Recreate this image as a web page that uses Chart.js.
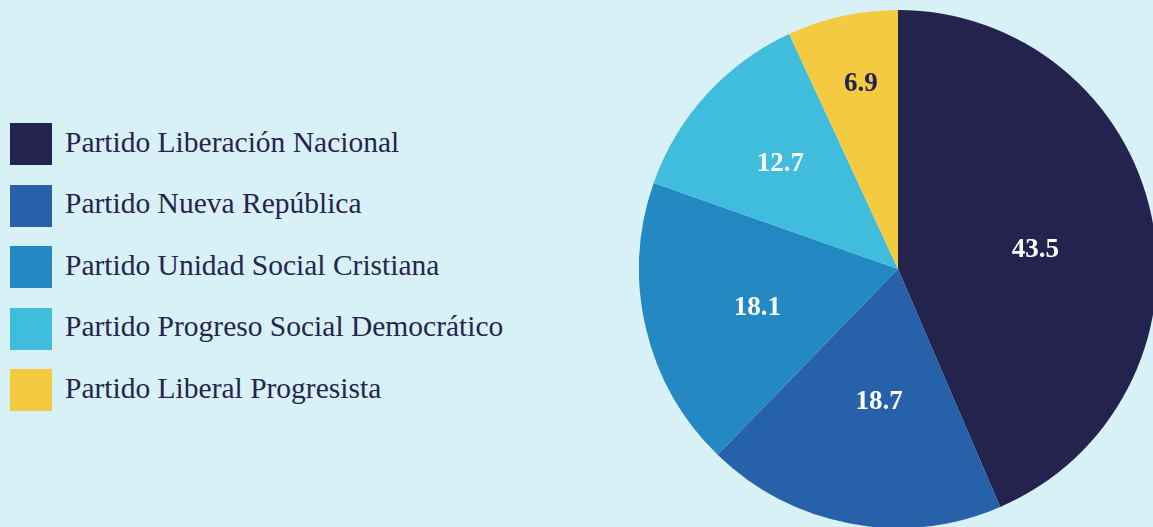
<!DOCTYPE html>
<html>
<head>
<meta charset="utf-8">
<script src="https://cdn.jsdelivr.net/npm/chart.js"></script>
<style>
    html, body { margin: 0; padding: 0; width: 1153px; height: 527px; overflow: hidden; background: #d8f1f7; }
    #legend { position: absolute; left: 10px; top: 123px; margin: 0; padding: 0; list-style: none; }
    #legend li { height: 42px; margin-bottom: 19.5px; display: flex; align-items: center; }
    #legend .box { width: 42px; height: 42px; margin-right: 13px; }
    #legend span.txt { font-family: "Liberation Serif", serif; font-size: 29.5px; color: #252550; position: relative; top: -2px; }
    #wrap { position: absolute; left: 639px; top: 10px; width: 518px; height: 518px; }
</style>
</head>
<body>
<ul id="legend"></ul>
<div id="wrap"><canvas id="pie-chart"></canvas></div>
<script>
    const parties = ['Partido Liberación Nacional', 'Partido Nueva República', 'Partido Unidad Social Cristiana', 'Partido Progreso Social Democrático', 'Partido Liberal Progresista'];
    const shares = [43.5, 18.7, 18.1, 12.7, 6.9];
    const colors = ['#24234d', '#2661aa', '#2488c2', '#40bcdc', '#f4cb40'];
    const labelColors = ['#ffffff', '#ffffff', '#ffffff', '#ffffff', '#24234d'];
    // where each value label sits: share of the radius, and a small turn (degrees) off the slice middle
    const labelRadius = [0.537, 0.511, 0.562, 0.614, 0.736];
    const labelTurn = [2.8, -2.3, -1.6, 0, 1.2];

    // Legend built from the same arrays
    const legend = document.getElementById('legend');
    parties.forEach((name, i) => {
        const li = document.createElement('li');
        const box = document.createElement('span');
        box.className = 'box';
        box.style.background = colors[i];
        const txt = document.createElement('span');
        txt.className = 'txt';
        txt.textContent = name;
        li.appendChild(box);
        li.appendChild(txt);
        legend.appendChild(li);
    });

    // Value labels drawn inside each slice
    const sliceLabels = {
        id: 'sliceLabels',
        afterDatasetsDraw(chart) {
            const ctx = chart.ctx;
            const meta = chart.getDatasetMeta(0);
            ctx.save();
            ctx.font = 'bold 27px "Liberation Serif", serif';
            ctx.textAlign = 'center';
            ctx.textBaseline = 'alphabetic';
            meta.data.forEach((arc, i) => {
                const text = shares[i].toFixed(1);
                const cap = ctx.measureText(text).actualBoundingBoxAscent;
                const mid = (arc.startAngle + arc.endAngle) / 2 + labelTurn[i] * Math.PI / 180;
                const r = arc.outerRadius * labelRadius[i];
                ctx.fillStyle = labelColors[i];
                ctx.fillText(text, arc.x + Math.cos(mid) * r, arc.y + Math.sin(mid) * r + cap / 2);
            });
            ctx.restore();
        }
    };

    new Chart(document.getElementById('pie-chart').getContext('2d'), {
        type: 'pie',
        data: {
            labels: parties,
            datasets: [{
                data: shares,
                backgroundColor: colors,
                borderWidth: 0
            }]
        },
        options: {
            responsive: true,
            maintainAspectRatio: false,
            animation: false,
            layout: { padding: 0 },
            plugins: {
                legend: { display: false },
                tooltip: { enabled: false }
            }
        },
        plugins: [sliceLabels]
    });
</script>
</body>
</html>
